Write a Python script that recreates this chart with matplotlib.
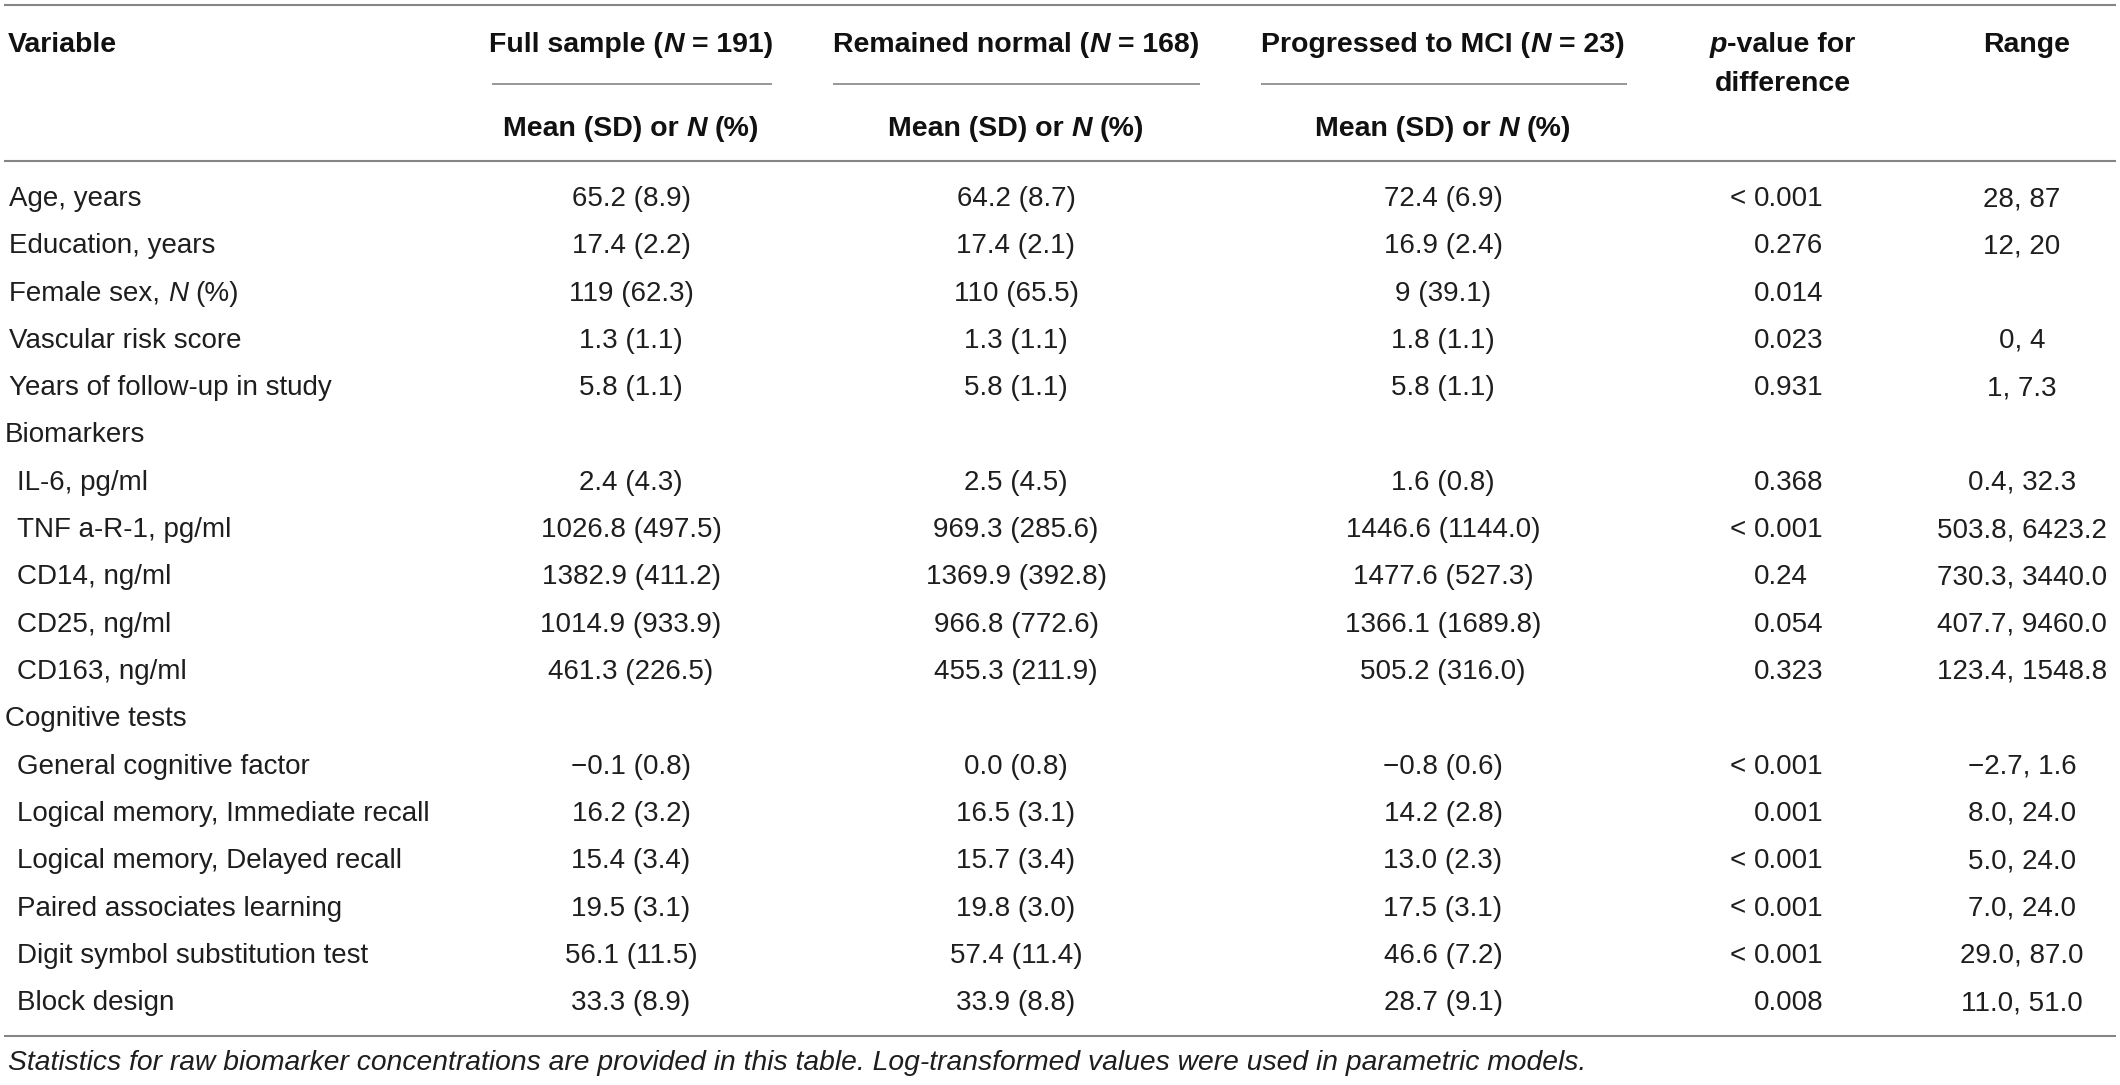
import matplotlib
matplotlib.use("Agg")
import matplotlib.pyplot as plt

# ---------------- data ----------------
col_headers = ["Full sample", "Remained normal", "Progressed to MCI"]
col_ns = ["191", "168", "23"]

variables = [
    "Age, years", "Education, years", "Female sex, N (%)", "Vascular risk score",
    "Years of follow-up in study", "Biomarkers", "IL-6, pg/ml", "TNF a-R-1, pg/ml",
    "CD14, ng/ml", "CD25, ng/ml", "CD163, ng/ml", "Cognitive tests",
    "General cognitive factor", "Logical memory, Immediate recall",
    "Logical memory, Delayed recall", "Paired associates learning",
    "Digit symbol substitution test", "Block design",
]
# indentation level: 0 = section header, 1 = top variable, 2 = sub-item
levels = [1, 1, 1, 1, 1, 0, 2, 2, 2, 2, 2, 0, 2, 2, 2, 2, 2, 2]

full_sample = ["65.2 (8.9)", "17.4 (2.2)", "119 (62.3)", "1.3 (1.1)", "5.8 (1.1)", "",
               "2.4 (4.3)", "1026.8 (497.5)", "1382.9 (411.2)", "1014.9 (933.9)", "461.3 (226.5)", "",
               "\u22120.1 (0.8)", "16.2 (3.2)", "15.4 (3.4)", "19.5 (3.1)", "56.1 (11.5)", "33.3 (8.9)"]
remained = ["64.2 (8.7)", "17.4 (2.1)", "110 (65.5)", "1.3 (1.1)", "5.8 (1.1)", "",
            "2.5 (4.5)", "969.3 (285.6)", "1369.9 (392.8)", "966.8 (772.6)", "455.3 (211.9)", "",
            "0.0 (0.8)", "16.5 (3.1)", "15.7 (3.4)", "19.8 (3.0)", "57.4 (11.4)", "33.9 (8.8)"]
progressed = ["72.4 (6.9)", "16.9 (2.4)", "9 (39.1)", "1.8 (1.1)", "5.8 (1.1)", "",
              "1.6 (0.8)", "1446.6 (1144.0)", "1477.6 (527.3)", "1366.1 (1689.8)", "505.2 (316.0)", "",
              "\u22120.8 (0.6)", "14.2 (2.8)", "13.0 (2.3)", "17.5 (3.1)", "46.6 (7.2)", "28.7 (9.1)"]
p_values = ["< 0.001", "0.276", "0.014", "0.023", "0.931", "",
            "0.368", "< 0.001", "0.24", "0.054", "0.323", "",
            "< 0.001", "0.001", "< 0.001", "< 0.001", "< 0.001", "0.008"]
ranges = ["28, 87", "12, 20", "", "0, 4", "1, 7.3", "",
          "0.4, 32.3", "503.8, 6423.2", "730.3, 3440.0", "407.7, 9460.0", "123.4, 1548.8", "",
          "\u22122.7, 1.6", "8.0, 24.0", "5.0, 24.0", "7.0, 24.0", "29.0, 87.0", "11.0, 51.0"]

footnote = ("Statistics for raw biomarker concentrations are provided in this table. "
            "Log-transformed values were used in parametric models.")

# ---------------- layout ----------------
W, H = 2120, 1085
FONT = "Liberation Sans"
BODY = 20
HEAD = 20.5
TXT = "#1e1e1e"
HTXT = "#111111"
LINE = "#858585"

fig = plt.figure(figsize=(W / 100, H / 100), dpi=100)
ax = fig.add_axes([0, 0, 1, 1])
ax.set_xlim(0, W)
ax.set_ylim(H, 0)
ax.axis("off")
renderer = fig.canvas.get_renderer()


def seg_width(s, size, weight, style):
    t1 = ax.text(0, 0, "|" + s + "|", fontsize=size, fontweight=weight, fontstyle=style, family=FONT)
    t2 = ax.text(0, 0, "||", fontsize=size, fontweight=weight, fontstyle=style, family=FONT)
    w = t1.get_window_extent(renderer).width - t2.get_window_extent(renderer).width
    t1.remove()
    t2.remove()
    return w


def rich(x, y, segs, size, weight="normal", ha="left", color=TXT):
    """segs: list of (text, style)"""
    widths = [seg_width(s, size, weight, st) for s, st in segs]
    total = sum(widths)
    if ha == "center":
        x = x - total / 2
    elif ha == "right":
        x = x - total
    for (s, st), w in zip(segs, widths):
        stripped = s.strip()
        lead = s[: len(s) - len(s.lstrip())]
        lw = seg_width(lead, size, weight, st) if lead else 0
        if stripped:
            ax.text(x + lw, y, stripped, fontsize=size, fontweight=weight, fontstyle=st,
                    family=FONT, color=color, ha="left", va="baseline")
        x += w


# rules
for yy in (5, 161, 1036):
    ax.plot([4, 2116], [yy, yy], color=LINE, lw=1.5, solid_capstyle="butt")

# header
col_cx = [631, 1016, 1443]
col_line = [(492, 772), (833, 1200), (1261, 1627)]
HB1 = 52
HB2 = 136
ax.text(8, HB1, "Variable", fontsize=HEAD, fontweight="bold", family=FONT, color=HTXT,
        va="baseline", ha="left")
for name, n, cx, (l0, l1) in zip(col_headers, col_ns, col_cx, col_line):
    rich(cx, HB1, [(name + " (", "normal"), ("N", "italic"), (" = " + n + ")", "normal")],
         HEAD, "bold", ha="center", color=HTXT)
    ax.plot([l0, l1], [84, 84], color=LINE, lw=1.2, solid_capstyle="butt")
    rich(cx, HB2, [("Mean (SD) or ", "normal"), ("N", "italic"), (" (%)", "normal")],
         HEAD, "bold", ha="center", color=HTXT)
rich(1782, HB1, [("p", "italic"), ("-value for", "normal")], HEAD, "bold", ha="center", color=HTXT)
ax.text(1783, 91, "difference", fontsize=HEAD, fontweight="bold", family=FONT, color=HTXT,
        ha="center", va="baseline")
ax.text(2027, HB1, "Range", fontsize=HEAD, fontweight="bold", family=FONT, color=HTXT,
        ha="center", va="baseline")

# body
BASE0 = 206
STEP = 47.3
indent = {0: 5, 1: 9, 2: 17}
P_LEFT = 1754
RANGE_CX = 2022
for i, var in enumerate(variables):
    y = BASE0 + STEP * i
    x0 = indent[levels[i]]
    if ", N (%)" in var:
        pre = var.split("N (%)")[0]
        rich(x0, y, [(pre, "normal"), ("N", "italic"), (" (%)", "normal")], BODY)
    else:
        ax.text(x0, y, var, fontsize=BODY, family=FONT, color=TXT, ha="left", va="baseline")
    for vals, cx in zip([full_sample, remained, progressed], col_cx):
        if vals[i]:
            ax.text(cx, y, vals[i], fontsize=BODY, family=FONT, color=TXT, ha="center", va="baseline")
    p = p_values[i]
    if p:
        if p.startswith("<"):
            rich(P_LEFT, y, [("< ", "normal")], BODY, ha="right")
            ax.text(P_LEFT, y, p[1:].strip(), fontsize=BODY, family=FONT, color=TXT, ha="left", va="baseline")
        else:
            ax.text(P_LEFT, y, p, fontsize=BODY, family=FONT, color=TXT, ha="left", va="baseline")
    if ranges[i]:
        ax.text(RANGE_CX, y, ranges[i], fontsize=BODY, family=FONT, color=TXT, ha="center", va="baseline")

# footnote
ax.text(8, 1070, footnote, fontsize=20.3, fontstyle="italic", family=FONT, color=TXT,
        ha="left", va="baseline")

fig.savefig("out.png", dpi=100, facecolor="white")
